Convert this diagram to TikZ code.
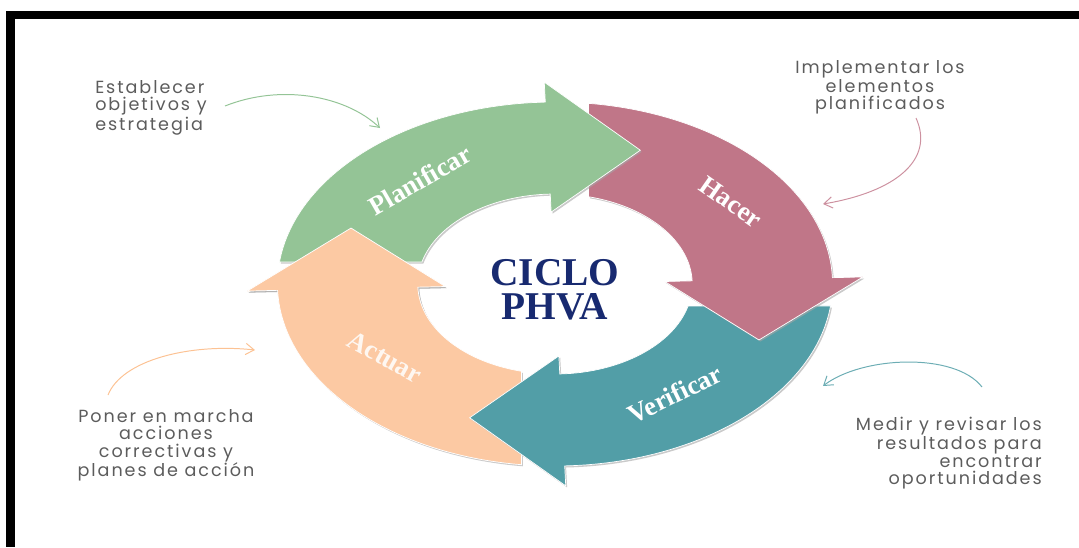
\documentclass[tikz,border=0pt]{standalone}
\usepackage{fontspec}
\usetikzlibrary{arrows.meta}

\newfontfamily\notefont[LetterSpace=11]{Poppins}
\newfontfamily\phvaserif{Liberation Serif}

\definecolor{planGreen}{RGB}{148,196,150}
\definecolor{hacerPink}{RGB}{192,118,136}
\definecolor{verifTeal}{RGB}{82,158,167}
\definecolor{actuarPeach}{RGB}{252,201,163}
\definecolor{phvaNavy}{RGB}{24,42,112}
\definecolor{noteGray}{RGB}{92,92,92}

% one arrow of the ring, drawn for the Planificar position (circle units, y up)
\newcommand{\phvapath}{(173.06:182) arc[start angle=173.06, end angle=92, radius=182]
  -- (92:202) -- (67.3:145) -- (92:72) -- (92:90)
  arc[start angle=92, end angle=165.85, radius=90] -- cycle}

% #1 = clockwise rotation, #2 = colour
\newcommand{\phvaarrow}[2]{%
  \begin{scope}[shift={(556.4,285.6)}, xscale=1.525, yscale=-1, rotate=#1]
    \fill[black!35, opacity=.6] \phvapath;
  \end{scope}
  \begin{scope}[shift={(555,284)}, xscale=1.525, yscale=-1, rotate=#1]
    \fill[#2, draw=white, line width=.5pt] \phvapath;
  \end{scope}}

\tikzset{
  steplabel/.style={font=\phvaserif\bfseries\fontsize{19}{19}\selectfont, text=white},
  note/.style={font=\notefont\fontsize{12.5}{12.4}\selectfont, text=noteGray, inner sep=0pt},
  callout/.style={line width=.7pt, -{Straight Barb[length=6pt, width=8pt]}}
}

\begin{document}
\begin{tikzpicture}[x=0.025cm,y=-0.025cm]
\useasboundingbox (0,0) rectangle (1079,547);

%frame
\fill[black] (6,11) rectangle (1079,19);
\fill[black] (6,11) rectangle (15,547);

%ring
\phvaarrow{270}{actuarPeach}
\phvaarrow{180}{verifTeal}
\phvaarrow{90}{hacerPink}
\phvaarrow{0}{planGreen}
% Actuar head lies over the Planificar tail
\begin{scope}
  \clip (225,195) rectangle (470,310);
  \phvaarrow{270}{actuarPeach}
\end{scope}

%labels on the arrows
\node[steplabel, rotate=30] (plan) at (420,180) {Planificar};
\node[steplabel, rotate=-35] (hacer) at (731,202) {Hacer};
\node[steplabel, rotate=26] (verif) at (675,394) {Verificar};
\node[steplabel, rotate=-29, text=white!85!actuarPeach] (actuar) at (385,357) {Actuar};

\node[font=\phvaserif\bfseries\fontsize{28}{24}\selectfont, text=phvaNavy, align=center]
  (ciclo) at (555,290) {CICLO\\PHVA};

%notes
\node[note, anchor=north west, align=left] (notePlan) at (95,80)
  {Establecer\\objetivos y\\estrategia};
\node[note, anchor=north, align=center] (noteHacer) at (880,60)
  {Implementar los\\elementos\\planificados};
\node[note, anchor=north east, align=right] (noteVerif) at (1042,417)
  {Medir y revisar los\\resultados para\\encontrar\\oportunidades};
\node[note, anchor=north, align=center] (noteActuar) at (166,409)
  {Poner en marcha\\acciones\\correctivas y\\planes de acción};

%callout arrows
\coordinate (planA) at (225,106);
\coordinate (planB) at (380,128);
\coordinate (hacerA) at (916,118);
\coordinate (hacerB) at (823,204);
\coordinate (verifA) at (982,387);
\coordinate (verifB) at (823,386);
\coordinate (actuarA) at (108,395);
\coordinate (actuarB) at (255,350);

\draw[callout, planGreen] (planA) .. controls (280,84) and (345,95) .. (planB);
\draw[callout, hacerPink!80] (hacerA) .. controls (935,160) and (895,192) .. (hacerB);
\draw[callout, verifTeal!85] (verifA) .. controls (955,352) and (862,356) .. (verifB);
\draw[callout, actuarPeach!90!orange] (actuarA) .. controls (122,360) and (190,343) .. (actuarB);
\end{tikzpicture}
\end{document}
